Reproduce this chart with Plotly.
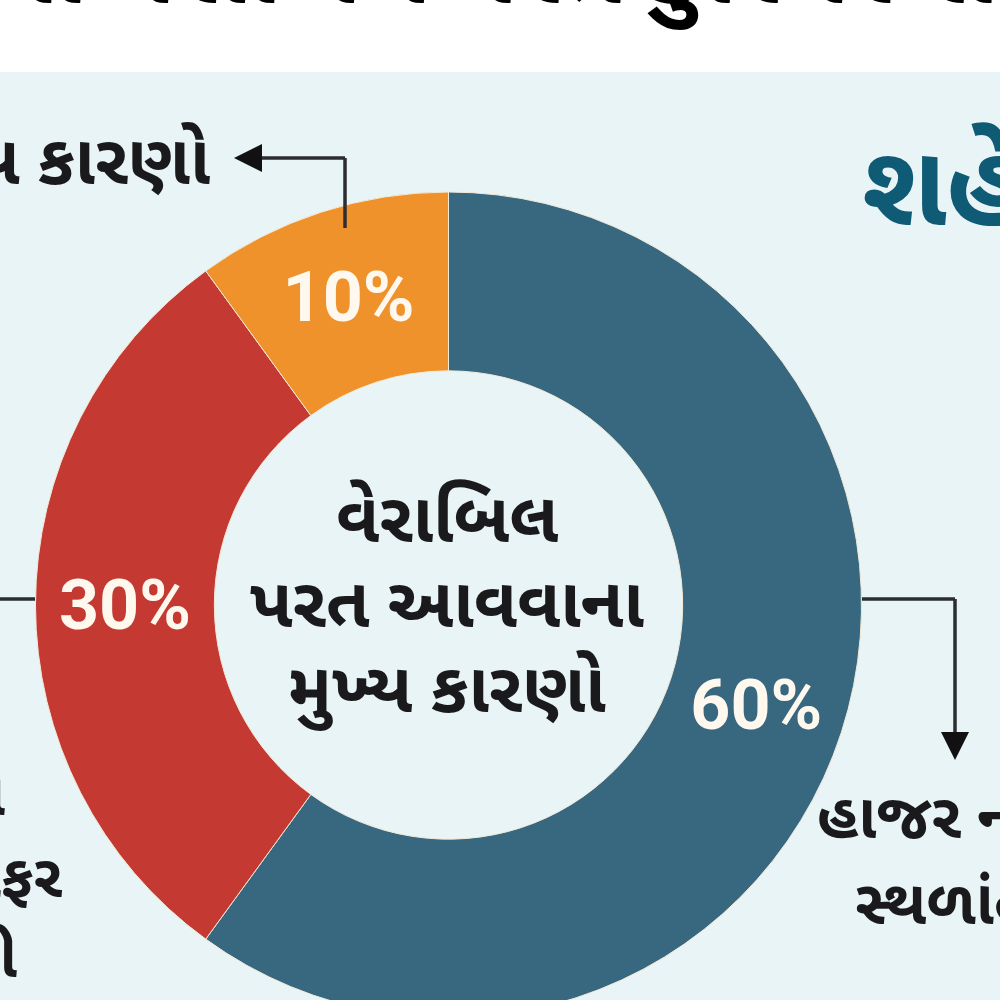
import plotly.graph_objects as go

labels = ['હાજર ન હોવું', 'અન્ય કારણો 2', 'અન્ય કારણો']
values = [60, 30, 10]
colors = ['#38687f', '#c43a32', '#f0922b']
center_lines = ['વેરાબિલ', 'પરત આવવાના', 'મુખ્ય કારણો']

W, H = 1000, 1040
FONT = 'Noto Sans Gujarati, Noto Sans, Liberation Sans, sans-serif'
BG = '#e8f4f6'
INK = '#1a1a1c'


def px_x(x):
    return x / W


def px_y(y):
    return 1 - y / H


def label(text, x, y, size=56, anchor='center', color=INK):
    fig.add_annotation(text=f'<b>{text}</b>', x=px_x(x), y=px_y(y), xref='paper', yref='paper',
                       xanchor=anchor, yanchor='middle', showarrow=False,
                       font=dict(family=FONT, size=size, color=color))


def line(x0, y0, x1, y1, width=3.5):
    fig.add_shape(type='line', xref='paper', yref='paper', x0=px_x(x0), y0=px_y(y0), x1=px_x(x1), y1=px_y(y1),
                  line=dict(color='#2b2d30', width=width))


def arrow_head(x, y, x_from, y_from):
    fig.add_annotation(x=px_x(x), y=px_y(y), ax=x_from - x, ay=y_from - y,
                       xref='paper', yref='paper', axref='pixel', ayref='pixel', text='',
                       showarrow=True, arrowhead=2, arrowsize=1.4, arrowwidth=4, arrowcolor='#111111')


fig = go.Figure(go.Pie(values=values, labels=labels, sort=False, direction='clockwise', rotation=0,
                       hole=0.567, textinfo='percent', textposition='inside',
                       insidetextorientation='horizontal',
                       textfont=dict(family='Roboto, sans-serif', size=70, color='#fff8ee', weight='bold'),
                       marker=dict(colors=colors, line=dict(color='#f3ead8', width=1)),
                       domain=dict(x=[px_x(35), px_x(862)], y=[px_y(1018), px_y(192)]),
                       showlegend=False))

# light panel below the white strip
fig.add_shape(type='rect', xref='paper', yref='paper', x0=0, x1=1, y0=0, y1=px_y(72),
              fillcolor=BG, line_width=0, layer='below')

# connectors
line(345, 228, 345, 158)
line(345, 158, 262, 158)
arrow_head(234, 158, 262, 158)
line(862, 599, 955, 599)
line(955, 599, 955, 740)
arrow_head(955, 760, 955, 740)
line(0, 599, 35, 599)

for text, y in zip(center_lines, [525, 610, 695]):
    label(text, 447, y, size=70)

label('મુખ્ય કારણો', 212, 167, size=69, anchor='right')
label('હાજર ન હોવું', 815, 822, size=62, anchor='left')
label('સ્થળાંતર', 853, 908, size=62, anchor='left')
label('ના', 8, 800, size=60, anchor='right')
label('ઓફર', 64, 882, size=60, anchor='right')
label('રી', 20, 962, size=60, anchor='right')
label('શહેર', 860, 197, size=114, anchor='left', color='#0f5a74')
label('શહેરમાં વેરાબિલ પરત કુરિયર સેવા અંગે', 538, -22, size=100, color='#000000')

fig.update_layout(width=W, height=H, margin=dict(l=0, r=0, t=0, b=0), paper_bgcolor='#ffffff',
                  autosize=False)
fig.write_html('out.html', config={'displayModeBar': False},
               post_script="document.body.style.margin='0';document.documentElement.style.overflow='hidden';document.body.style.overflow='hidden';")
